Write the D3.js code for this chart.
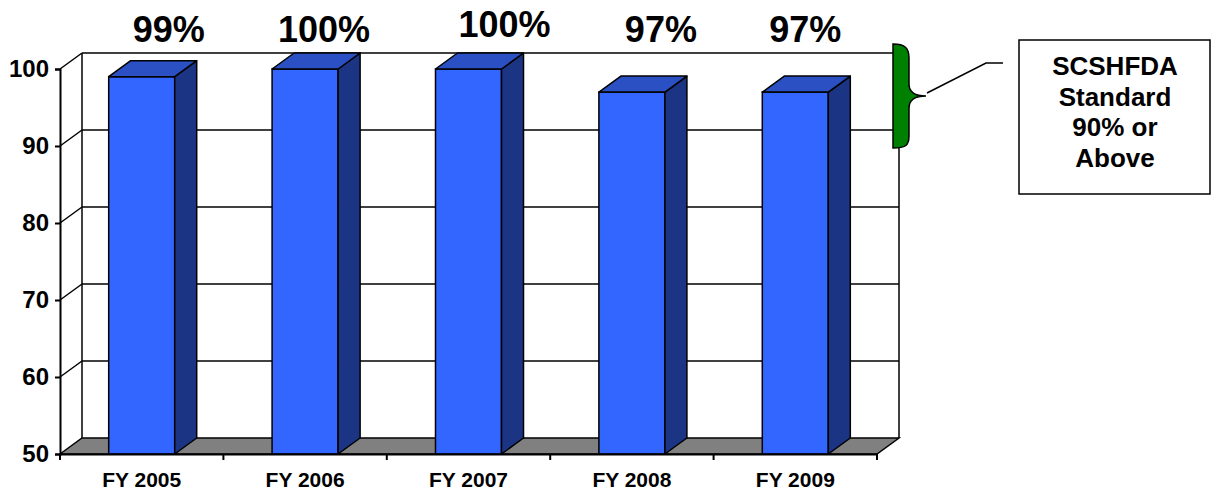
<!DOCTYPE html>
<html>
<head>
<meta charset="utf-8">
<script src="https://cdn.jsdelivr.net/npm/d3@7"></script>
<style>
  body { margin: 0; background: #fff; }
  text { font-family: Arial, "Liberation Sans", sans-serif; font-weight: bold; fill: #000; }
</style>
</head>
<body>
<script>
// datos
const years = ["FY 2005", "FY 2006", "FY 2007", "FY 2008", "FY 2009"];
const rates = [99, 100, 100, 97, 97];
const yTicks = [50, 60, 70, 80, 90, 100];
const legendLines = ["SCSHFDA", "Standard", "90% or", "Above"];

// pequeños ajustes de posición de las etiquetas de arriba (solo diseño)
const labelNudgeX = [16, 8, 25, 18, -1];
const labelNudgeY = [0, 0, -5, 0, 0];

const width = 1213, height = 491;
const depth = { dx: 22, dy: 16 }; // profundidad 3D

const svg = d3.select("body").append("svg")
    .attr("width", width)
    .attr("height", height);

// escalas
const x = d3.scaleBand().domain(years).range([60, 877]);
const y = d3.scaleLinear().domain([50, 100]).range([454, 69]);
const barW = x.bandwidth() * 0.404;
const x0 = x.range()[0], x1 = x.range()[1];

// pared izquierda y pared del fondo
const walls = svg.append("g");
// líneas de la cuadrícula (pared del fondo) + diagonales de la pared izquierda
yTicks.filter(t => t > 50).forEach(t => {
    walls.append("line")
        .attr("x1", x0 + depth.dx).attr("x2", x1 + depth.dx)
        .attr("y1", y(t) - depth.dy).attr("y2", y(t) - depth.dy)
        .attr("stroke", "#000").attr("stroke-width", 1.5);
    walls.append("line")
        .attr("x1", x0).attr("x2", x0 + depth.dx)
        .attr("y1", y(t)).attr("y2", y(t) - depth.dy)
        .attr("stroke", "#000").attr("stroke-width", 1.5);
});
// bordes verticales del fondo
walls.append("line")
    .attr("x1", x0 + depth.dx).attr("x2", x0 + depth.dx)
    .attr("y1", y(100) - depth.dy).attr("y2", y(50) - depth.dy)
    .attr("stroke", "#000").attr("stroke-width", 1.5);
walls.append("line")
    .attr("x1", x1 + depth.dx).attr("x2", x1 + depth.dx)
    .attr("y1", y(100) - depth.dy).attr("y2", y(50) - depth.dy)
    .attr("stroke", "#000").attr("stroke-width", 1.5);

// suelo gris
walls.append("path")
    .attr("d", `M${x0},${y(50)} L${x0 + depth.dx},${y(50) - depth.dy} L${x1 + depth.dx},${y(50) - depth.dy} L${x1},${y(50)} Z`)
    .attr("fill", "#808080")
    .attr("stroke", "#000")
    .attr("stroke-width", 1.5);

// barras 3D
const bars = svg.append("g").selectAll("g")
    .data(years.map((c, i) => ({ c, v: rates[i] })))
    .enter().append("g");

const bx = d => x(d.c) + (x.bandwidth() - barW) / 2;

bars.append("rect")
    .attr("x", bx)
    .attr("y", d => y(d.v))
    .attr("width", barW)
    .attr("height", d => y(50) - y(d.v))
    .attr("fill", "#3366ff")
    .attr("stroke", "#000")
    .attr("stroke-width", 1.5);

bars.append("path")
    .attr("d", d => {
        const r = bx(d) + barW;
        return `M${r},${y(d.v)} L${r + depth.dx},${y(d.v) - depth.dy} L${r + depth.dx},${y(50) - depth.dy} L${r},${y(50)} Z`;
    })
    .attr("fill", "#1b3483")
    .attr("stroke", "#000")
    .attr("stroke-width", 1.5)
    .attr("stroke-linejoin", "round");

bars.append("path")
    .attr("d", d => {
        const l = bx(d), t = y(d.v);
        return `M${l},${t} L${l + depth.dx},${t - depth.dy} L${l + barW + depth.dx},${t - depth.dy} L${l + barW},${t} Z`;
    })
    .attr("fill", "#2a50c4")
    .attr("stroke", "#000")
    .attr("stroke-width", 1.5)
    .attr("stroke-linejoin", "round");

// etiquetas de porcentaje
bars.append("text")
    .attr("x", (d, i) => bx(d) + barW / 2 + depth.dx / 2 + labelNudgeX[i])
    .attr("y", (d, i) => 42 + labelNudgeY[i])
    .attr("text-anchor", "middle")
    .style("font-size", "36px")
    .text(d => d.v + "%");

// eje Y
const yAxis = svg.append("g")
    .attr("transform", `translate(${x0},0)`)
    .call(d3.axisLeft(y).tickValues(yTicks).tickSize(5).tickPadding(6));
yAxis.select(".domain").attr("stroke", "#000").attr("stroke-width", 2);
yAxis.selectAll(".tick line").attr("stroke-width", 2);
yAxis.selectAll("text")
    .style("font-size", "24px")
    .style("font-family", "Arial, 'Liberation Sans', sans-serif")
    .style("font-weight", "bold")
    .attr("fill", "#000");

// eje X
const xAxis = svg.append("g")
    .attr("transform", `translate(0,${y(50)})`)
    .call(d3.axisBottom(x).tickSize(0).tickPadding(18));
xAxis.select(".domain").attr("stroke", "#000").attr("stroke-width", 2);
xAxis.selectAll("text")
    .style("font-size", "21px")
    .style("font-family", "Arial, 'Liberation Sans', sans-serif")
    .style("font-weight", "bold")
    .attr("fill", "#000");
// marcas entre categorías
xAxis.selectAll(".sep")
    .data(years.map(c => x(c)).concat([x1]))
    .enter().append("line")
    .attr("x1", d => d).attr("x2", d => d)
    .attr("y1", 0).attr("y2", 6)
    .attr("stroke", "#000").attr("stroke-width", 2);

// llave verde (estándar 90% o más)
const bTop = y(100) - 25, bBot = y(90) + 2, bMid = (bTop + bBot) / 2;
const bL = x1 + depth.dx - 6, bR = bL + 16, tip = bL + 33;
svg.append("path")
    .attr("d", `M${bL},${bTop} C${bL + 12},${bTop} ${bR},${bTop + 4} ${bR},${bTop + 14}
        L${bR},${bMid - 12} C${bR},${bMid - 4} ${bR + 6},${bMid} ${tip},${bMid}
        C${bR + 6},${bMid} ${bR},${bMid + 4} ${bR},${bMid + 12}
        L${bR},${bBot - 12} C${bR},${bBot - 2} ${bL + 12},${bBot} ${bL},${bBot} Z`)
    .attr("fill", "#008000")
    .attr("stroke", "#000")
    .attr("stroke-width", 1.5);

// línea de conexión
svg.append("path")
    .attr("d", `M${tip + 1},${bMid - 3} L986,63 L1003,63`)
    .attr("fill", "none")
    .attr("stroke", "#000")
    .attr("stroke-width", 1.5);

// caja de leyenda
svg.append("rect")
    .attr("x", 1019).attr("y", 40)
    .attr("width", 191).attr("height", 154)
    .attr("fill", "#fff")
    .attr("stroke", "#000")
    .attr("stroke-width", 1.5);

svg.selectAll(".legend-line")
    .data(legendLines)
    .enter().append("text")
    .attr("class", "legend-line")
    .attr("x", 1115)
    .attr("y", (d, i) => 75 + i * 30.7)
    .attr("text-anchor", "middle")
    .style("font-size", "26px")
    .text(d => d);
</script>
</body>
</html>
